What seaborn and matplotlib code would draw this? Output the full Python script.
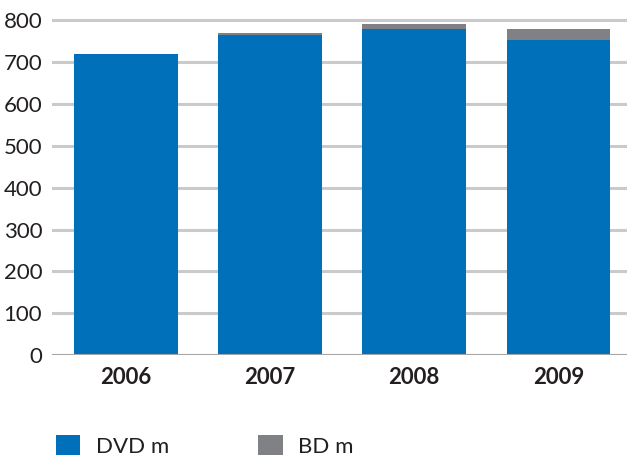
import matplotlib
matplotlib.use("Agg")
import matplotlib.pyplot as plt
import seaborn as sns
import pandas as pd
from matplotlib.patches import Patch

years = ["2006", "2007", "2008", "2009"]
dvd_m = [719, 765, 779, 753]
bd_m = [0, 4, 13, 27]

BLUE = "#0070ba"
GREY = "#808184"

df = pd.DataFrame({"year": years, "DVD m": dvd_m, "BD m": bd_m})
df["total"] = df["DVD m"] + df["BD m"]

sns.set_style("white")
plt.rcParams["font.family"] = ["Lato", "DejaVu Sans"]

fig = plt.figure(figsize=(6.27, 4.55), dpi=100)
ax = fig.add_axes([52 / 627, 1 - 355 / 455, 1 - 52 / 627, (355 - 18.4) / 455])

# grey = total (DVD + BD), blue drawn on top
sns.barplot(data=df, x="year", y="total", color=GREY, width=0.72, saturation=1,
            linewidth=0, edgecolor="none", ax=ax, zorder=3)
sns.barplot(data=df, x="year", y="DVD m", color=BLUE, width=0.72, saturation=1,
            linewidth=0, edgecolor="none", ax=ax, zorder=3)

ax.set_ylim(0, 805)
ax.set_xlim(-0.51, 3.475)
ax.set_yticks(range(0, 801, 100))
ax.yaxis.grid(True, color="#cacaca", linewidth=2.2, zorder=0)
ax.set_axisbelow(True)
ax.axhline(0, color="#a6a6a6", linewidth=2.2, zorder=4)
for s in ax.spines.values():
    s.set_visible(False)

ax.set_xlabel("")
ax.set_ylabel("")
ax.tick_params(axis="y", length=0, pad=7, labelsize=16, labelcolor="#231f20")
ax.tick_params(axis="x", length=0, pad=9, labelsize=16, labelcolor="#231f20")
for lbl in ax.get_xticklabels():
    lbl.set_fontweight("bold")

handles = [Patch(facecolor=BLUE, edgecolor="none", label="DVD m"),
           Patch(facecolor=GREY, edgecolor="none", label="BD m")]
fig.legend(handles=handles, loc="upper left", bbox_to_anchor=(56 / 627, 1 - 435 / 455),
           ncol=2, frameon=False, fontsize=16, handlelength=1.1, handleheight=1.1,
           handletextpad=0.7, columnspacing=4.0, borderpad=0, borderaxespad=0,
           labelcolor="#231f20")

fig.savefig("out.png", dpi=100)
